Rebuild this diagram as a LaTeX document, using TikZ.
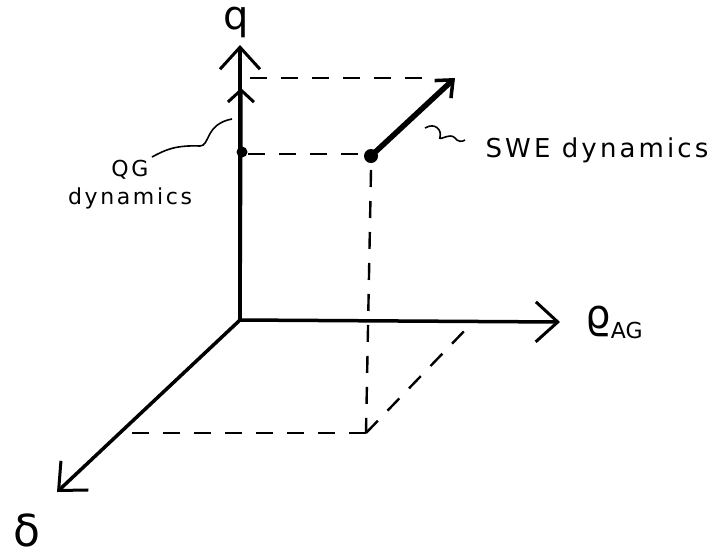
\documentclass[tikz,border=0pt]{standalone}
\usepackage{fontspec}
\setmainfont{DejaVu Sans}[LetterSpace=12]
\newfontfamily\symfont{DejaVu Sans}
\usetikzlibrary{arrows.meta}
\tikzset{
  axis/.style={line width=3.5pt, -{Straight Barb[length=22pt,width=40pt,line width=3pt]}},
  dsh/.style={line width=2.4pt, dash pattern=on 17pt off 14pt},
  lbl/.style={font=\fontsize{22}{28}\selectfont, inner sep=0pt, align=center},
  sq/.style={line width=1.6pt}
}
\begin{document}
\begin{tikzpicture}[x=1pt,y=-1pt]
\useasboundingbox (0,0) rectangle (719,558);
\coordinate (O) at (240,320);
\coordinate (qtop) at (240,45);
\coordinate (qmid) at (241,88);
\coordinate (rtip) at (560,322);
\coordinate (dtip) at (57,492);
\coordinate (QG) at (242,152);
\coordinate (SWE) at (371,156);
\coordinate (SWEtip) at (455,78);
\coordinate (topL) at (250,78);
\coordinate (topR) at (428,78);
\coordinate (fl) at (130,433);
\coordinate (fr) at (366,433);
\coordinate (fd) at (470,325);
% axes
\draw[axis] (O) -- (qtop);
\draw[line width=3.5pt, -{Straight Barb[length=12pt,width=26pt,line width=3pt]}] (O) -- (qmid);
\draw[axis] (O) -- (rtip);
\draw[axis] (O) -- (dtip);
% dashed projections
\draw[dsh] (topL) -- (topR);
\draw[dsh] (QG) ++(6,2) -- ++(120,0);
\draw[dsh] (SWE) ++(0,14) -- (fr);
\draw[dsh] (fr) -- (fl);
\draw[dsh] (fr) -- (fd);
% dots and SWE arrow
\fill (QG) circle (5.5pt);
\draw[line width=5.5pt, -{Straight Barb[length=14pt,width=24pt,line width=3.5pt]}] (SWE) -- (SWEtip);
\fill (SWE) circle (7pt);
% squiggles
\draw[sq] (152,157) .. controls (165,150) and (175,145) .. (200,146) .. controls (210,146) and (205,124) .. (232,119);
\draw[sq] (425,128) .. controls (435,122) and (442,130) .. (440,137) .. controls (438,142) and (450,132) .. (455,138) .. controls (458,142) and (462,142) .. (465,140);
% labels
\node[lbl] (qlab) at (236,22) {\symfont\fontsize{40}{40}\selectfont q};
\node[lbl] (qglab) at (130,185) {QG\\dynamics};
\node[lbl, font=\fontsize{26}{30}\selectfont] (swelab) at (597,150) {SWE dynamics};
\node[lbl] (rlab) at (614,322) {\symfont\fontsize{40}{40}\selectfont ϱ\raisebox{-10pt}{\fontsize{22}{22}\selectfont AG}};
\node[lbl] (dlab) at (27,530) {\symfont\fontsize{44}{44}\selectfont δ};
\end{tikzpicture}
\end{document}
